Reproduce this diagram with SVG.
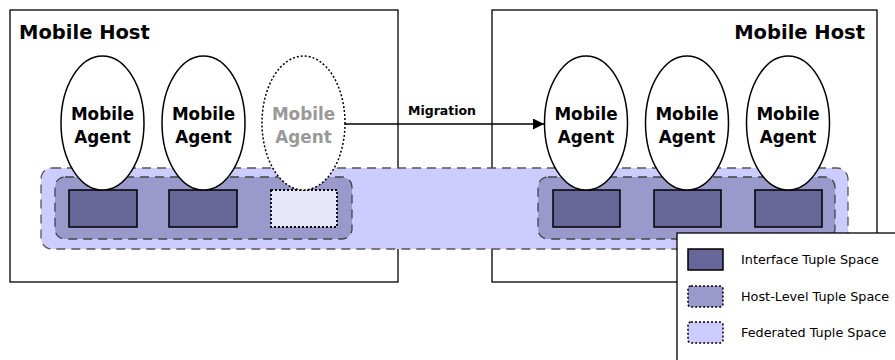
<svg xmlns="http://www.w3.org/2000/svg" width="895" height="360" viewBox="0 0 895 360">
<defs>
<style>
.host{fill:#fff;stroke:#000;stroke-width:1.3}
.fed{fill:#ccccff;stroke:#555;stroke-width:1.3;stroke-dasharray:9 6}
.hl{fill:#9999cc;stroke:#444;stroke-width:1.3;stroke-dasharray:9 6}
.its{fill:#666699;stroke:#000;stroke-width:1.5}
.ghost{fill:#e6e6fa;stroke:#000;stroke-width:1.8;stroke-dasharray:2 2}
.ag{fill:#fff;stroke:#000;stroke-width:1.5}
.agd{fill:#fff;stroke:#000;stroke-width:1.5;stroke-dasharray:2 2}
.t{font-family:"DejaVu Sans",Verdana,sans-serif;font-weight:bold}
.title{font-size:19.5px}
.at{font-size:16.8px;text-anchor:middle}
.lg{font-family:"DejaVu Sans",Verdana,sans-serif;font-size:12.8px}
</style>
<marker id="arr" viewBox="0 0 10 10" refX="10" refY="5" markerWidth="17" markerHeight="11" markerUnits="userSpaceOnUse" orient="auto">
<path d="M0,0 L10,5 L0,10 z" fill="#000"/>
</marker>
</defs>
<g id="host-left"><rect class="host" x="10" y="10" width="388" height="272"/><text class="t title" x="19" y="39">Mobile Host</text></g>
<g id="host-right"><rect class="host" x="492" y="10" width="385" height="272"/><text class="t title" x="865" y="39" text-anchor="end">Mobile Host</text></g>
<g id="federated"><rect class="fed" x="41" y="168" width="807" height="81" rx="11"/></g>
<g id="hostlevel-left"><rect class="hl" x="55" y="177" width="297" height="62" rx="10"/></g>
<g id="hostlevel-right"><rect class="hl" x="538" y="177" width="297" height="62" rx="10"/></g>
<g id="its-l1"><rect class="its" x="69" y="190" width="68" height="37"/></g>
<g id="its-l2"><rect class="its" x="169" y="190" width="68" height="37"/></g>
<g id="its-l3"><rect class="ghost" x="271" y="190" width="66" height="37"/></g>
<g id="its-r1"><rect class="its" x="553" y="190" width="67" height="37"/></g>
<g id="its-r2"><rect class="its" x="654" y="190" width="67" height="37"/></g>
<g id="its-r3"><rect class="its" x="755" y="190" width="67" height="37"/></g>
<g id="agent-l1"><ellipse class="ag" cx="102.5" cy="123" rx="41.5" ry="67"/><text class="t at" x="102.5" y="120">Mobile</text><text class="t at" x="102.5" y="143">Agent</text></g>
<g id="agent-l2"><ellipse class="ag" cx="203.5" cy="123" rx="41.5" ry="67"/><text class="t at" x="203.5" y="120">Mobile</text><text class="t at" x="203.5" y="143">Agent</text></g>
<g id="agent-l3"><ellipse class="agd" cx="303.5" cy="123" rx="41.5" ry="67"/><text class="t at" x="303.5" y="120" fill="#999">Mobile</text><text class="t at" x="303.5" y="143" fill="#999">Agent</text></g>
<g id="agent-r1"><ellipse class="ag" cx="586" cy="123" rx="41.5" ry="67"/><text class="t at" x="586" y="120">Mobile</text><text class="t at" x="586" y="143">Agent</text></g>
<g id="agent-r2"><ellipse class="ag" cx="687" cy="123" rx="41.5" ry="67"/><text class="t at" x="687" y="120">Mobile</text><text class="t at" x="687" y="143">Agent</text></g>
<g id="agent-r3"><ellipse class="ag" cx="788" cy="123" rx="41.5" ry="67"/><text class="t at" x="788" y="120">Mobile</text><text class="t at" x="788" y="143">Agent</text></g>
<g id="connectors"><line x1="345" y1="124" x2="544" y2="124" stroke="#000" stroke-width="1.5" marker-end="url(#arr)"/><text class="t" x="442" y="115" font-size="12.5" text-anchor="middle">Migration</text></g>
<g id="legend">
<rect x="677" y="233" width="225" height="135" fill="#fff" stroke="#000" stroke-width="1.3"/>
<rect class="its" x="688" y="249" width="35" height="21"/>
<rect x="688" y="286" width="35" height="21" rx="3" fill="#9999cc" stroke="#000" stroke-width="1.5" stroke-dasharray="2 2"/>
<rect x="688" y="322" width="35" height="21" rx="3" fill="#ccccff" stroke="#000" stroke-width="1.5" stroke-dasharray="2 2"/>
<text class="lg" x="741" y="264">Interface Tuple Space</text>
<text class="lg" x="741" y="301">Host-Level Tuple Space</text>
<text class="lg" x="741" y="337">Federated Tuple Space</text>
</g>
</svg>
